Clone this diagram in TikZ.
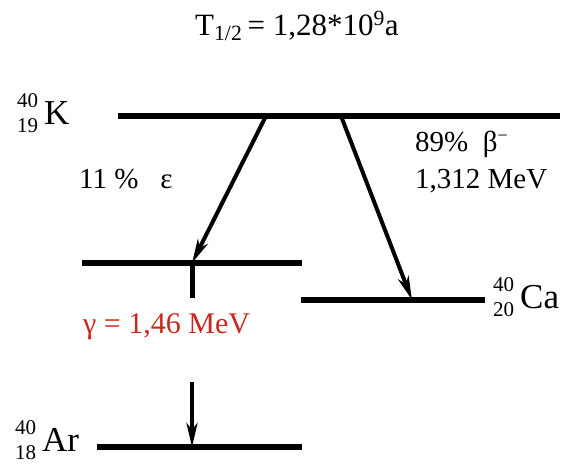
\documentclass[tikz,border=0pt]{standalone}
\usepackage{fontspec}
\setmainfont{Liberation Serif}
\usetikzlibrary{arrows.meta}
\definecolor{gammared}{RGB}{200,40,30}
\newcommand\nucl[3]{{\fontsize{21}{21}\selectfont\rlap{\raisebox{17pt}{#1}}\raisebox{-8pt}{#2}}\hspace{6pt}{\fontsize{35}{35}\selectfont #3}}
\tikzset{
  level/.style={line width=5.5pt},
  decay/.style={line width=4pt,-{Stealth[length=24pt,width=11pt,inset=7pt]}},
  lbl/.style={inner sep=0pt,anchor=base west,font=\rmfamily\fontsize{29}{32}\selectfont},
  nuclbl/.style={inner sep=0pt,anchor=base west,font=\rmfamily}
}
\begin{document}
\begin{tikzpicture}[x=1pt,y=-1pt]
\useasboundingbox (0,0) rectangle (569,464);
% title
\node[lbl,font=\rmfamily\fontsize{31}{34}\selectfont] (title) at (195,35) {T\textsubscript{1/2}\,= 1,28*10\textsuperscript{9}a};
% levels
\coordinate (kL) at (118,116); \coordinate (kR) at (560,116);
\coordinate (mL) at (82,263);  \coordinate (mR) at (302,263);
\coordinate (cL) at (301,300); \coordinate (cR) at (485,300);
\coordinate (aL) at (97,447);  \coordinate (aR) at (302,447);
\draw[level] (kL) -- (kR);
\draw[level] (mL) -- (mR);
\draw[level] (cL) -- (cR);
\draw[level] (aL) -- (aR);
% arrow points
\coordinate (eS) at (266,116); \coordinate (eE) at (192,263);
\coordinate (bS) at (341,116); \coordinate (bE) at (412,300);
\coordinate (gS) at (192,263); \coordinate (gM) at (192,298);
\coordinate (g2S) at (192,382); \coordinate (g2E) at (192,447);
\draw[decay] (eS) -- (eE);
\draw[decay] (bS) -- (bE);
\draw[line width=5pt] (gS) -- (gM);
\draw[decay] (g2S) -- (g2E);
% labels
\node[nuclbl] (K) at (17,124) {\nucl{40}{19}{K}};
\node[nuclbl] (Ca) at (493,308) {\nucl{40}{20}{Ca}};
\node[nuclbl] (Ar) at (15,451) {\nucl{40}{18}{Ar}};
\node[lbl] (beta) at (415,151) {89\%\ \ β\raisebox{10pt}{\fontsize{18}{18}\selectfont −}};
\node[lbl] (betaE) at (415,188) {1,312 MeV};
\node[lbl] (eps) at (79,188) {11 \%\ \ \ ε};
\node[lbl,text=gammared,font=\rmfamily\fontsize{30}{32}\selectfont] (gam) at (83,333) {γ = 1,46 MeV};
\end{tikzpicture}
\end{document}
